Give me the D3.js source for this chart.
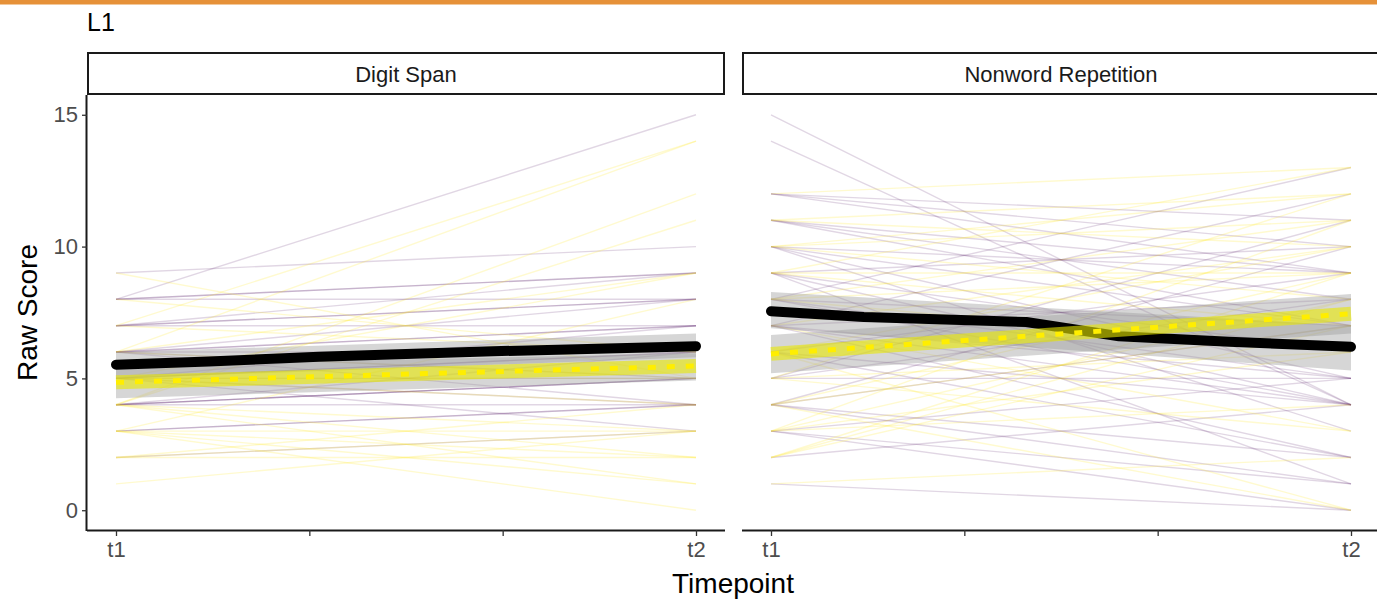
<!DOCTYPE html>
<html>
<head>
<meta charset="utf-8">
<script src="https://cdn.jsdelivr.net/npm/d3@7"></script>
<style>
  body { margin: 0; background: #fff; }
  svg { display: block; font-family: "Liberation Sans", Arial, sans-serif; }
</style>
</head>
<body>
<svg id="chart" width="1377" height="603"></svg>
<script>
// ---- data -------------------------------------------------------------
const panelNames = ["Digit Span", "Nonword Repetition"];
const timeBreaks = [1, 4 / 3, 5 / 3, 2];
const timeLabels = ["t1", "", "", "t2"];
const yTicks = [0, 5, 10, 15];

// individual trajectories: score at t1, score at t2, group (0 / 1)
const dsT1 = [8, 9, 8, 8, 7, 7, 7, 6, 6, 6, 7, 8, 5, 6, 5, 5, 4, 4, 4, 4, 5, 6, 5, 4, 3, 3, 2, 5, 6,
              7, 6, 4, 4, 9, 8, 7, 6, 5, 5, 4, 3, 3, 2, 3, 4, 3, 1, 2, 5, 3, 6, 2, 4];
const dsT2 = [15, 10, 9, 9, 9, 8, 8, 8, 7, 7, 7, 8, 7, 6, 6, 6, 5, 5, 5, 6, 5, 5, 4, 4, 4, 4, 3, 3, 4,
              14, 14, 12, 11, 5, 6, 6, 5, 5, 4, 3, 3, 2, 2, 1, 1, 0, 3, 4, 9, 8, 9, 3, 2];
const dsGroup = [0, 0, 0, 0, 0, 0, 0, 0, 0, 0, 0, 0, 0, 0, 0, 0, 0, 0, 0, 0, 0, 0, 0, 0, 0, 0, 0, 0, 0,
                 1, 1, 1, 1, 1, 1, 1, 1, 1, 1, 1, 1, 1, 1, 1, 1, 1, 1, 1, 1, 1, 1, 1, 1];

const nwT1 = [15, 14, 12, 12, 11, 11, 10, 10, 10, 9, 9, 9, 8, 8, 8, 7, 7, 7, 7, 6, 6, 5, 5, 5, 4, 4, 4, 3, 3, 2,
              1, 4, 6, 3, 10, 9, 8, 11, 12, 7,
              12, 10, 9, 11, 10, 8, 9, 8, 7, 6, 5, 4, 3, 3, 2, 2, 2, 3, 4, 5, 6, 7, 1, 4, 8, 10, 11, 9, 5, 3];
const nwT2 = [4, 4, 11, 10, 9, 7, 5, 3, 9, 4, 1, 10, 4, 5, 13, 12, 2, 8, 5, 9, 4, 8, 11, 5, 10, 1, 2, 5, 0, 4,
              0, 7, 2, 1, 7, 6, 7, 8, 9, 4,
              13, 12, 13, 12, 11, 11, 7, 9, 10, 10, 12, 9, 11, 8, 9, 7, 8, 6, 7, 3, 0, 3, 2, 0, 6, 8, 10, 9, 6, 4];
const nwGroup = [0, 0, 0, 0, 0, 0, 0, 0, 0, 0, 0, 0, 0, 0, 0, 0, 0, 0, 0, 0, 0, 0, 0, 0, 0, 0, 0, 0, 0, 0,
                 0, 0, 0, 0, 0, 0, 0, 0, 0, 0,
                 1, 1, 1, 1, 1, 1, 1, 1, 1, 1, 1, 1, 1, 1, 1, 1, 1, 1, 1, 1, 1, 1, 1, 1, 1, 1, 1, 1, 1, 1];

// group trend lines
const dsTrendAx = [1, 1.16, 1.35, 1.65, 2];
const dsTrendAy = [5.52, 5.64, 5.82, 6.03, 6.22];
const nwTrendAx = [1, 1.16, 1.44, 1.6, 1.79, 2];
const nwTrendAy = [7.55, 7.33, 7.14, 6.6, 6.39, 6.2];
const trendBx = [1, 2];
const dsTrendBy = [4.85, 5.47];
const nwTrendBy = [5.93, 7.45];

// confidence bands at t1 / t2
const bandX = [1, 2];
const dsBandALo = [5.0, 5.8],  dsBandAHi = [6.0, 6.7];
const dsBandBLo = [4.25, 4.92], dsBandBHi = [5.5, 5.95];
const nwBandALo = [6.9, 5.3],  nwBandAHi = [8.28, 7.0];
const nwBandBLo = [5.2, 6.7],  nwBandBHi = [6.65, 8.2];

const panelData = [
  { t1: dsT1, t2: dsT2, g: dsGroup, ax: dsTrendAx, ay: dsTrendAy, by: dsTrendBy,
    aLo: dsBandALo, aHi: dsBandAHi, bLo: dsBandBLo, bHi: dsBandBHi },
  { t1: nwT1, t2: nwT2, g: nwGroup, ax: nwTrendAx, ay: nwTrendAy, by: nwTrendBy,
    aLo: nwBandALo, aHi: nwBandAHi, bLo: nwBandBLo, bHi: nwBandBHi }
];

// ---- layout -------------------------------------------------------------
const W = 1377, H = 603;
const panelTop = 95, panelBottom = 530, panelW = 638;
const panelLefts = [87, 742];
const stripTop = 53;
const groupColors = ["#440154", "#FDE725"];

const svg = d3.select("#chart");

// header rule
svg.append("rect").attr("x", 0).attr("y", 0).attr("width", W).attr("height", 4.5)
  .attr("fill", "#E69138");

svg.append("text").attr("x", 87).attr("y", 31)
  .attr("font-size", 25).attr("fill", "#000").text("L1");

const y = d3.scaleLinear().domain([-0.75, 15.75]).range([panelBottom, panelTop]);

panelData.forEach((pd, pi) => {
  const left = panelLefts[pi];
  const x = d3.scaleLinear().domain([0.95, 2.05]).range([left, left + panelW]);
  const g = svg.append("g");

  // strip
  g.append("rect").attr("x", left + 1).attr("y", stripTop)
    .attr("width", panelW - 2).attr("height", panelTop - stripTop - 1)
    .attr("fill", "#fff").attr("stroke", "#1a1a1a").attr("stroke-width", 2);
  g.append("text").attr("x", left + panelW / 2).attr("y", (stripTop + panelTop) / 2)
    .attr("text-anchor", "middle").attr("dominant-baseline", "central")
    .attr("font-size", 22).attr("fill", "#1a1a1a").text(panelNames[pi]);

  // individual trajectories
  const rows = pd.t1.map((v, i) => ({ a: v, b: pd.t2[i], grp: pd.g[i] }));
  g.append("g").selectAll("line").data(rows).join("line")
    .attr("x1", x(1)).attr("x2", x(2))
    .attr("y1", d => y(d.a)).attr("y2", d => y(d.b))
    .attr("stroke", d => groupColors[d.grp])
    .attr("stroke-opacity", d => d.grp === 0 ? 0.16 : 0.22)
    .attr("stroke-width", 1.4);

  // confidence bands
  const area = d3.area().x(d => x(d.x)).y0(d => y(d.lo)).y1(d => y(d.hi));
  [[pd.aLo, pd.aHi], [pd.bLo, pd.bHi]].forEach(([lo, hi]) => {
    const pts = bandX.map((xv, i) => ({ x: xv, lo: lo[i], hi: hi[i] }));
    g.append("path").attr("d", area(pts)).attr("fill", "#999999").attr("fill-opacity", 0.4);
  });

  const line = d3.line().x(d => x(d.x)).y(d => y(d.y));

  // group A trend
  const aPts = pd.ax.map((xv, i) => ({ x: xv, y: pd.ay[i] }));
  g.append("path").attr("d", line(aPts)).attr("fill", "none")
    .attr("stroke", "#000").attr("stroke-width", 10)
    .attr("stroke-linecap", "round").attr("stroke-linejoin", "round");

  // group B trend: wide translucent band with dotted core
  const bPts = trendBx.map((xv, i) => ({ x: xv, y: pd.by[i] }));
  g.append("path").attr("d", line(bPts)).attr("fill", "none")
    .attr("stroke", "#e8e800").attr("stroke-opacity", 0.6).attr("stroke-width", 14);
  g.append("path").attr("d", line(bPts)).attr("fill", "none")
    .attr("stroke", "#ffee00").attr("stroke-width", 5)
    .attr("stroke-dasharray", "8,11");

  // axes
  const xAxis = d3.axisBottom(x).tickValues(timeBreaks)
    .tickFormat((d, i) => timeLabels[i]).tickSize(6).tickSizeOuter(0).tickPadding(5);
  const xg = g.append("g").attr("transform", `translate(0,${panelBottom})`).call(xAxis);
  xg.select(".domain").attr("stroke", "#1a1a1a").attr("stroke-width", 2)
    .attr("d", `M${left},0.5H${left + panelW}`);
  xg.selectAll(".tick line").attr("stroke", "#333").attr("stroke-width", 1.3);
  xg.selectAll(".tick text").attr("font-size", 22).attr("fill", "#4d4d4d")
    .attr("font-family", "Liberation Sans, Arial, sans-serif");

  if (pi === 0) {
    const yAxis = d3.axisLeft(y).tickValues(yTicks).tickSize(5).tickSizeOuter(0).tickPadding(4);
    const yg = g.append("g").attr("transform", `translate(${left},0)`).call(yAxis);
    yg.select(".domain").attr("stroke", "#1a1a1a").attr("stroke-width", 2)
      .attr("d", `M-0.5,${panelTop}V${panelBottom + 1}`);
    yg.selectAll(".tick line").attr("stroke", "#333").attr("stroke-width", 1.3);
    yg.selectAll(".tick text").attr("font-size", 22).attr("fill", "#4d4d4d")
      .attr("font-family", "Liberation Sans, Arial, sans-serif");
  }
});

// axis titles
svg.append("text").attr("x", 733).attr("y", 593).attr("text-anchor", "middle")
  .attr("font-size", 28).attr("fill", "#000").text("Timepoint");
svg.append("text").attr("transform", `translate(37,${(panelTop + panelBottom) / 2}) rotate(-90)`)
  .attr("text-anchor", "middle").attr("font-size", 28).attr("fill", "#000").text("Raw Score");
</script>
</body>
</html>
